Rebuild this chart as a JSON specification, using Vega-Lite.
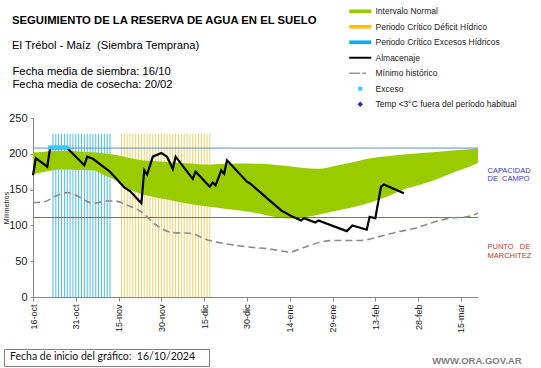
{
  "$schema": "https://vega.github.io/schema/vega-lite/v6.json",
  "width": 445,
  "height": 179,
  "autosize": "none",
  "padding": {"left": 33, "top": 118, "right": 63, "bottom": 71},
  "background": "white",
  "title": {
    "text": "SEGUIMIENTO DE LA RESERVA DE AGUA EN EL SUELO",
    "subtitle": "El Trébol - Maíz\u00a0 (Siembra Temprana)",
    "anchor": "start",
    "frame": "group",
    "dx": -21,
    "font": "Liberation Sans",
    "fontSize": 11.3,
    "fontWeight": "bold",
    "color": "#000000",
    "subtitleFont": "Liberation Sans",
    "subtitleFontSize": 11.25,
    "subtitleColor": "#000000",
    "subtitleLineHeight": 13.4,
    "subtitlePadding": 14,
    "offset": -44.2
  },
  "datasets": {
    "periodos": [
      {"fecha": "2024-10-23", "periodo": "Periodo Crítico Excesos Hídricos"},
      {"fecha": "2024-10-24", "periodo": "Periodo Crítico Excesos Hídricos"},
      {"fecha": "2024-10-25", "periodo": "Periodo Crítico Excesos Hídricos"},
      {"fecha": "2024-10-26", "periodo": "Periodo Crítico Excesos Hídricos"},
      {"fecha": "2024-10-27", "periodo": "Periodo Crítico Excesos Hídricos"},
      {"fecha": "2024-10-28", "periodo": "Periodo Crítico Excesos Hídricos"},
      {"fecha": "2024-10-29", "periodo": "Periodo Crítico Excesos Hídricos"},
      {"fecha": "2024-10-30", "periodo": "Periodo Crítico Excesos Hídricos"},
      {"fecha": "2024-10-31", "periodo": "Periodo Crítico Excesos Hídricos"},
      {"fecha": "2024-11-01", "periodo": "Periodo Crítico Excesos Hídricos"},
      {"fecha": "2024-11-02", "periodo": "Periodo Crítico Excesos Hídricos"},
      {"fecha": "2024-11-03", "periodo": "Periodo Crítico Excesos Hídricos"},
      {"fecha": "2024-11-04", "periodo": "Periodo Crítico Excesos Hídricos"},
      {"fecha": "2024-11-05", "periodo": "Periodo Crítico Excesos Hídricos"},
      {"fecha": "2024-11-06", "periodo": "Periodo Crítico Excesos Hídricos"},
      {"fecha": "2024-11-07", "periodo": "Periodo Crítico Excesos Hídricos"},
      {"fecha": "2024-11-08", "periodo": "Periodo Crítico Excesos Hídricos"},
      {"fecha": "2024-11-09", "periodo": "Periodo Crítico Excesos Hídricos"},
      {"fecha": "2024-11-10", "periodo": "Periodo Crítico Excesos Hídricos"},
      {"fecha": "2024-11-11", "periodo": "Periodo Crítico Excesos Hídricos"},
      {"fecha": "2024-11-12", "periodo": "Periodo Crítico Excesos Hídricos"},
      {"fecha": "2024-11-16", "periodo": "Periodo Crítico Déficit Hídrico"},
      {"fecha": "2024-11-17", "periodo": "Periodo Crítico Déficit Hídrico"},
      {"fecha": "2024-11-18", "periodo": "Periodo Crítico Déficit Hídrico"},
      {"fecha": "2024-11-19", "periodo": "Periodo Crítico Déficit Hídrico"},
      {"fecha": "2024-11-20", "periodo": "Periodo Crítico Déficit Hídrico"},
      {"fecha": "2024-11-21", "periodo": "Periodo Crítico Déficit Hídrico"},
      {"fecha": "2024-11-22", "periodo": "Periodo Crítico Déficit Hídrico"},
      {"fecha": "2024-11-23", "periodo": "Periodo Crítico Déficit Hídrico"},
      {"fecha": "2024-11-24", "periodo": "Periodo Crítico Déficit Hídrico"},
      {"fecha": "2024-11-25", "periodo": "Periodo Crítico Déficit Hídrico"},
      {"fecha": "2024-11-26", "periodo": "Periodo Crítico Déficit Hídrico"},
      {"fecha": "2024-11-27", "periodo": "Periodo Crítico Déficit Hídrico"},
      {"fecha": "2024-11-28", "periodo": "Periodo Crítico Déficit Hídrico"},
      {"fecha": "2024-11-29", "periodo": "Periodo Crítico Déficit Hídrico"},
      {"fecha": "2024-11-30", "periodo": "Periodo Crítico Déficit Hídrico"},
      {"fecha": "2024-12-01", "periodo": "Periodo Crítico Déficit Hídrico"},
      {"fecha": "2024-12-02", "periodo": "Periodo Crítico Déficit Hídrico"},
      {"fecha": "2024-12-03", "periodo": "Periodo Crítico Déficit Hídrico"},
      {"fecha": "2024-12-04", "periodo": "Periodo Crítico Déficit Hídrico"},
      {"fecha": "2024-12-05", "periodo": "Periodo Crítico Déficit Hídrico"},
      {"fecha": "2024-12-06", "periodo": "Periodo Crítico Déficit Hídrico"},
      {"fecha": "2024-12-07", "periodo": "Periodo Crítico Déficit Hídrico"},
      {"fecha": "2024-12-08", "periodo": "Periodo Crítico Déficit Hídrico"},
      {"fecha": "2024-12-09", "periodo": "Periodo Crítico Déficit Hídrico"},
      {"fecha": "2024-12-10", "periodo": "Periodo Crítico Déficit Hídrico"},
      {"fecha": "2024-12-11", "periodo": "Periodo Crítico Déficit Hídrico"},
      {"fecha": "2024-12-12", "periodo": "Periodo Crítico Déficit Hídrico"},
      {"fecha": "2024-12-13", "periodo": "Periodo Crítico Déficit Hídrico"},
      {"fecha": "2024-12-14", "periodo": "Periodo Crítico Déficit Hídrico"},
      {"fecha": "2024-12-15", "periodo": "Periodo Crítico Déficit Hídrico"},
      {"fecha": "2024-12-16", "periodo": "Periodo Crítico Déficit Hídrico"},
      {"fecha": "2024-12-17", "periodo": "Periodo Crítico Déficit Hídrico"}
    ],
    "banda": [
      {"fecha": "2024-10-16", "inferior": 171.5, "superior": 202},
      {"fecha": "2024-10-20", "inferior": 175, "superior": 203},
      {"fecha": "2024-10-23", "inferior": 177, "superior": 204},
      {"fecha": "2024-10-26", "inferior": 178, "superior": 204},
      {"fecha": "2024-10-29", "inferior": 178, "superior": 204},
      {"fecha": "2024-11-02", "inferior": 177.5, "superior": 203},
      {"fecha": "2024-11-06", "inferior": 177, "superior": 202},
      {"fecha": "2024-11-10", "inferior": 170, "superior": 200.5},
      {"fecha": "2024-11-13", "inferior": 165, "superior": 199},
      {"fecha": "2024-11-17", "inferior": 155, "superior": 196},
      {"fecha": "2024-11-20", "inferior": 148, "superior": 193.5},
      {"fecha": "2024-11-23", "inferior": 144, "superior": 191},
      {"fecha": "2024-11-27", "inferior": 140, "superior": 190},
      {"fecha": "2024-12-02", "inferior": 136, "superior": 188.5},
      {"fecha": "2024-12-07", "inferior": 132, "superior": 187},
      {"fecha": "2024-12-10", "inferior": 130, "superior": 186.5},
      {"fecha": "2024-12-16", "inferior": 126.5, "superior": 185},
      {"fecha": "2024-12-19", "inferior": 125, "superior": 185.5},
      {"fecha": "2024-12-27", "inferior": 121, "superior": 186.5},
      {"fecha": "2025-01-04", "inferior": 116, "superior": 186},
      {"fecha": "2025-01-10", "inferior": 111, "superior": 184},
      {"fecha": "2025-01-14", "inferior": 109.5, "superior": 182.5},
      {"fecha": "2025-01-19", "inferior": 111, "superior": 180},
      {"fecha": "2025-01-24", "inferior": 115, "superior": 179},
      {"fecha": "2025-01-31", "inferior": 121, "superior": 184},
      {"fecha": "2025-02-07", "inferior": 127, "superior": 190},
      {"fecha": "2025-02-12", "inferior": 133, "superior": 194},
      {"fecha": "2025-02-17", "inferior": 140, "superior": 196.5},
      {"fecha": "2025-02-23", "inferior": 150, "superior": 199},
      {"fecha": "2025-03-01", "inferior": 157, "superior": 201},
      {"fecha": "2025-03-07", "inferior": 165, "superior": 203},
      {"fecha": "2025-03-13", "inferior": 175, "superior": 205},
      {"fecha": "2025-03-18", "inferior": 182, "superior": 206.5},
      {"fecha": "2025-03-21", "inferior": 187, "superior": 207.5}
    ],
    "umbrales": [
      {"umbral": "Capacidad de campo", "mm": 208},
      {"umbral": "Punto de marchitez", "mm": 111}
    ],
    "minimo": [
      {"fecha": "2024-10-16", "mm": 132},
      {"fecha": "2024-10-20", "mm": 133},
      {"fecha": "2024-10-23", "mm": 139},
      {"fecha": "2024-10-28", "mm": 146},
      {"fecha": "2024-10-31", "mm": 142},
      {"fecha": "2024-11-06", "mm": 131},
      {"fecha": "2024-11-11", "mm": 134},
      {"fecha": "2024-11-14", "mm": 134},
      {"fecha": "2024-11-18", "mm": 128},
      {"fecha": "2024-11-23", "mm": 119},
      {"fecha": "2024-11-28", "mm": 101},
      {"fecha": "2024-12-04", "mm": 90},
      {"fecha": "2024-12-10", "mm": 89},
      {"fecha": "2024-12-16", "mm": 80},
      {"fecha": "2024-12-23", "mm": 74},
      {"fecha": "2024-12-30", "mm": 70},
      {"fecha": "2025-01-07", "mm": 67},
      {"fecha": "2025-01-14", "mm": 63},
      {"fecha": "2025-01-19", "mm": 69},
      {"fecha": "2025-01-25", "mm": 77},
      {"fecha": "2025-01-30", "mm": 79},
      {"fecha": "2025-02-08", "mm": 79},
      {"fecha": "2025-02-15", "mm": 85},
      {"fecha": "2025-02-21", "mm": 91},
      {"fecha": "2025-02-27", "mm": 96},
      {"fecha": "2025-03-05", "mm": 104},
      {"fecha": "2025-03-11", "mm": 110},
      {"fecha": "2025-03-17", "mm": 112},
      {"fecha": "2025-03-21", "mm": 117}
    ],
    "almacenaje": [
      {"fecha": "2024-10-16", "mm": 170},
      {"fecha": "2024-10-17", "mm": 194},
      {"fecha": "2024-10-21", "mm": 182},
      {"fecha": "2024-10-22", "mm": 208},
      {"fecha": "2024-10-28", "mm": 208},
      {"fecha": "2024-11-03", "mm": 184},
      {"fecha": "2024-11-04", "mm": 196},
      {"fecha": "2024-11-06", "mm": 193},
      {"fecha": "2024-11-12", "mm": 175},
      {"fecha": "2024-11-17", "mm": 153},
      {"fecha": "2024-11-19", "mm": 148},
      {"fecha": "2024-11-23", "mm": 131},
      {"fecha": "2024-11-24", "mm": 177},
      {"fecha": "2024-11-25", "mm": 171},
      {"fecha": "2024-11-27", "mm": 196},
      {"fecha": "2024-11-30", "mm": 201},
      {"fecha": "2024-12-02", "mm": 196},
      {"fecha": "2024-12-04", "mm": 179},
      {"fecha": "2024-12-05", "mm": 196},
      {"fecha": "2024-12-11", "mm": 165},
      {"fecha": "2024-12-12", "mm": 175},
      {"fecha": "2024-12-17", "mm": 154},
      {"fecha": "2024-12-18", "mm": 160},
      {"fecha": "2024-12-19", "mm": 156},
      {"fecha": "2024-12-21", "mm": 177},
      {"fecha": "2024-12-22", "mm": 172},
      {"fecha": "2024-12-23", "mm": 191},
      {"fecha": "2024-12-30", "mm": 161},
      {"fecha": "2024-12-31", "mm": 159},
      {"fecha": "2025-01-04", "mm": 145},
      {"fecha": "2025-01-07", "mm": 134.5},
      {"fecha": "2025-01-11", "mm": 121},
      {"fecha": "2025-01-15", "mm": 112},
      {"fecha": "2025-01-18", "mm": 107},
      {"fecha": "2025-01-19", "mm": 110},
      {"fecha": "2025-01-23", "mm": 104},
      {"fecha": "2025-01-24", "mm": 107},
      {"fecha": "2025-02-03", "mm": 92},
      {"fecha": "2025-02-05", "mm": 100},
      {"fecha": "2025-02-10", "mm": 94},
      {"fecha": "2025-02-11", "mm": 112},
      {"fecha": "2025-02-13", "mm": 110},
      {"fecha": "2025-02-15", "mm": 154},
      {"fecha": "2025-02-16", "mm": 157},
      {"fecha": "2025-02-23", "mm": 145}
    ],
    "exceso": [
      {"fecha": "2024-10-22", "mm": 209, "serie": "Exceso"},
      {"fecha": "2024-10-23", "mm": 209, "serie": "Exceso"},
      {"fecha": "2024-10-24", "mm": 209, "serie": "Exceso"},
      {"fecha": "2024-10-25", "mm": 209, "serie": "Exceso"},
      {"fecha": "2024-10-26", "mm": 209, "serie": "Exceso"},
      {"fecha": "2024-10-27", "mm": 209, "serie": "Exceso"},
      {"fecha": "2024-10-28", "mm": 209, "serie": "Exceso"}
    ]
  },
  "layer": [
    {
      "data": {"name": "periodos"},
      "mark": {"type": "rule", "strokeWidth": 1},
      "encoding": {
        "x": {
          "field": "fecha", "type": "temporal", "title": "WWW.ORA.GOV.AR",
          "scale": {"type": "utc", "domain": [{"year": 2024, "month": 10, "date": 16, "utc": true}, {"year": 2025, "month": 3, "date": 21, "utc": true}]},
          "axis": {
            "values": [
              {"year": 2024, "month": 10, "date": 16, "utc": true},
              {"year": 2024, "month": 10, "date": 31, "utc": true},
              {"year": 2024, "month": 11, "date": 15, "utc": true},
              {"year": 2024, "month": 11, "date": 30, "utc": true},
              {"year": 2024, "month": 12, "date": 15, "utc": true},
              {"year": 2024, "month": 12, "date": 30, "utc": true},
              {"year": 2025, "month": 1, "date": 14, "utc": true},
              {"year": 2025, "month": 1, "date": 29, "utc": true},
              {"year": 2025, "month": 2, "date": 13, "utc": true},
              {"year": 2025, "month": 2, "date": 28, "utc": true},
              {"year": 2025, "month": 3, "date": 15, "utc": true}
            ],
            "labelExpr": "utcdate(datum.value) + '-' + ['ene','feb','mar','abr','may','jun','jul','ago','sep','oct','nov','dic'][utcmonth(datum.value)]",
            "labelAngle": -90,
            "labelFont": "Liberation Sans",
            "labelFontSize": 9,
            "labelColor": "#222222",
            "labelPadding": 3,
            "labelFlush": false,
            "labelOverlap": false,
            "tickSize": 4,
            "tickColor": "#888888",
            "domainColor": "#888888",
            "grid": false,
            "titleX": 488,
            "titleY": 63,
            "titleAlign": "right",
            "titleBaseline": "middle",
            "titleFont": "Liberation Sans",
            "titleFontSize": 9.5,
            "titleFontWeight": "bold",
            "titleColor": "#7f7f7f"
          }
        },
        "y": {"datum": 0, "type": "quantitative", "axis": null},
        "y2": {"datum": 228},
        "stroke": {
          "field": "periodo", "type": "nominal", "legend": null,
          "scale": {"domain": ["Periodo Crítico Déficit Hídrico", "Periodo Crítico Excesos Hídricos", "Capacidad de campo", "Punto de marchitez"], "range": ["#F0D264", "#45BFE6", "#5F8DD3", "#C0504D"]}
        }
      }
    },
    {
      "data": {"name": "banda"},
      "mark": {"type": "area", "color": "#99CC00", "interpolate": "monotone", "opacity": 1},
      "encoding": {
        "x": {"field": "fecha", "type": "temporal", "title": "WWW.ORA.GOV.AR"},
        "y": {
          "field": "inferior", "type": "quantitative",
          "scale": {"domain": [0, 250], "nice": false},
          "axis": {
            "values": [0, 50, 100, 150, 200, 250],
            "title": "Milímetros",
            "titleFont": "Liberation Sans",
            "titleFontSize": 7,
            "titleFontWeight": "normal",
            "titleColor": "#222222",
            "titleX": -27,
            "titleY": 89.5,
            "titleAlign": "center",
            "titleBaseline": "middle",
            "titleAngle": -90,
            "labelFont": "Liberation Sans",
            "labelFontSize": 11,
            "labelColor": "#222222",
            "labelPadding": 3,
            "tickSize": 3,
            "tickColor": "#888888",
            "domainColor": "#888888",
            "grid": false
          }
        },
        "y2": {"field": "superior"}
      }
    },
    {
      "data": {"name": "umbrales"},
      "mark": {"type": "rule", "strokeWidth": 1},
      "encoding": {
        "y": {
          "field": "mm", "type": "quantitative",
          "axis": {
            "orient": "right",
            "values": [177, 70],
            "labelExpr": "datum.value > 100 ? ['CAPACIDAD', 'DE\u00a0\u00a0CAMPO'] : ['PUNTO\u00a0\u00a0\u00a0DE', 'MARCHITEZ']",
            "labelColor": {"condition": {"test": "datum.value > 100", "value": "#3B3BBF"}, "value": "#C0392B"},
            "labelFont": "Liberation Sans",
            "labelFontSize": 7.5,
            "labelLineHeight": 8.5,
            "labelPadding": 9,
            "labelFlush": false,
            "labelOverlap": false,
            "ticks": false,
            "tickSize": 0,
            "domain": false,
            "grid": false,
            "title": ["Fecha media de siembra: 16/10", "Fecha media de cosecha: 20/02"],
            "titleX": -466,
            "titleY": -47,
            "titleAngle": 0,
            "titleAlign": "left",
            "titleBaseline": "middle",
            "titleFont": "Liberation Sans",
            "titleFontSize": 11.25,
            "titleFontWeight": "normal",
            "titleColor": "#000000",
            "titleLineHeight": 13.4
          }
        },
        "stroke": {
          "field": "umbral", "type": "nominal", "legend": null,
          "scale": {"domain": ["Periodo Crítico Déficit Hídrico", "Periodo Crítico Excesos Hídricos", "Capacidad de campo", "Punto de marchitez"], "range": ["#F0D264", "#45BFE6", "#5F8DD3", "#C0504D"]}
        }
      }
    },
    {
      "data": {"name": "minimo"},
      "mark": {"type": "line", "color": "#8c8c8c", "strokeWidth": 1.6, "interpolate": "monotone"},
      "encoding": {
        "x": {"field": "fecha", "type": "temporal", "title": "WWW.ORA.GOV.AR"},
        "y": {"field": "mm", "type": "quantitative", "axis": null},
        "strokeDash": {
          "datum": "Fecha de inicio del gráfico:\u00a0\u00a016/10/2024",
          "type": "nominal",
          "scale": {"range": [[7, 4]]},
          "legend": {
            "orient": "none",
            "legendX": -29,
            "legendY": 231,
            "title": null,
            "padding": 3,
            "strokeColor": "#8c7f7f",
            "symbolSize": 0,
            "symbolOpacity": 0,
            "symbolStrokeWidth": 0,
            "labelOffset": -7.5,
            "labelFont": "Lato",
            "labelFontSize": 10.5,
            "labelColor": "#111111",
            "labelLimit": 400,
            "labelExpr": "datum.label + '\u00a0\u00a0\u00a0\u00a0\u200b'"
          }
        }
      }
    },
    {
      "data": {"name": "almacenaje"},
      "mark": {"type": "line", "color": "#000000", "strokeWidth": 2.2},
      "encoding": {
        "x": {"field": "fecha", "type": "temporal", "title": "WWW.ORA.GOV.AR"},
        "y": {"field": "mm", "type": "quantitative", "axis": null}
      }
    },
    {
      "data": {"name": "exceso"},
      "mark": {"type": "point", "filled": true, "size": 36, "opacity": 1},
      "encoding": {
        "x": {"field": "fecha", "type": "temporal", "title": "WWW.ORA.GOV.AR"},
        "y": {"field": "mm", "type": "quantitative", "axis": null},
        "color": {
          "field": "serie", "type": "nominal",
          "scale": {
            "domain": ["Intervalo Normal", "Periodo Crítico Déficit Hídrico", "Periodo Crítico Excesos Hídricos", "Almacenaje", "Mínimo histórico", "Exceso", "Temp <3°C fuera del período habitual"],
            "range": ["#99CC00", "#FFC000", "#00B0F0", "#000000", "#999999", "#33CCFF", "#1F2FA0"]
          },
          "legend": {
            "orient": "none", "legendX": 323, "legendY": -111, "title": null, "padding": 0,
            "symbolSize": 36, "symbolStrokeWidth": 0, "symbolOpacity": 1, "labelOffset": 11,
            "labelFont": "Liberation Sans", "labelFontSize": 8.5, "labelColor": "#222222",
            "rowPadding": 6.5, "labelLimit": 300
          }
        },
        "shape": {
          "field": "serie", "type": "nominal",
          "scale": {
            "domain": ["Intervalo Normal", "Periodo Crítico Déficit Hídrico", "Periodo Crítico Excesos Hídricos", "Almacenaje", "Mínimo histórico", "Exceso", "Temp <3°C fuera del período habitual"],
            "range": [
              "M-3.67,-0.6H3.67V0.6H-3.67Z",
              "M-3.67,-0.6H3.67V0.6H-3.67Z",
              "M-3.67,-0.6H3.67V0.6H-3.67Z",
              "M-3.67,-0.33H3.67V0.33H-3.67Z",
              "M-3.67,-0.25H0V0.25H-3.67ZM0.67,-0.25H2V0.25H0.67Z",
              "M-0.65,-0.65H0.65V0.65H-0.65Z",
              "M0,-0.9L0.9,0L0,0.9L-0.9,0Z"
            ]
          },
          "legend": {
            "orient": "none", "legendX": 323, "legendY": -111, "title": null, "padding": 0,
            "symbolSize": 36, "symbolStrokeWidth": 0, "symbolOpacity": 1, "labelOffset": 11,
            "labelFont": "Liberation Sans", "labelFontSize": 8.5, "labelColor": "#222222",
            "rowPadding": 6.5, "labelLimit": 300
          }
        }
      }
    }
  ],
  "resolve": {"axis": {"y": "independent"}},
  "config": {"view": {"stroke": null}, "font": "Liberation Sans"}
}
